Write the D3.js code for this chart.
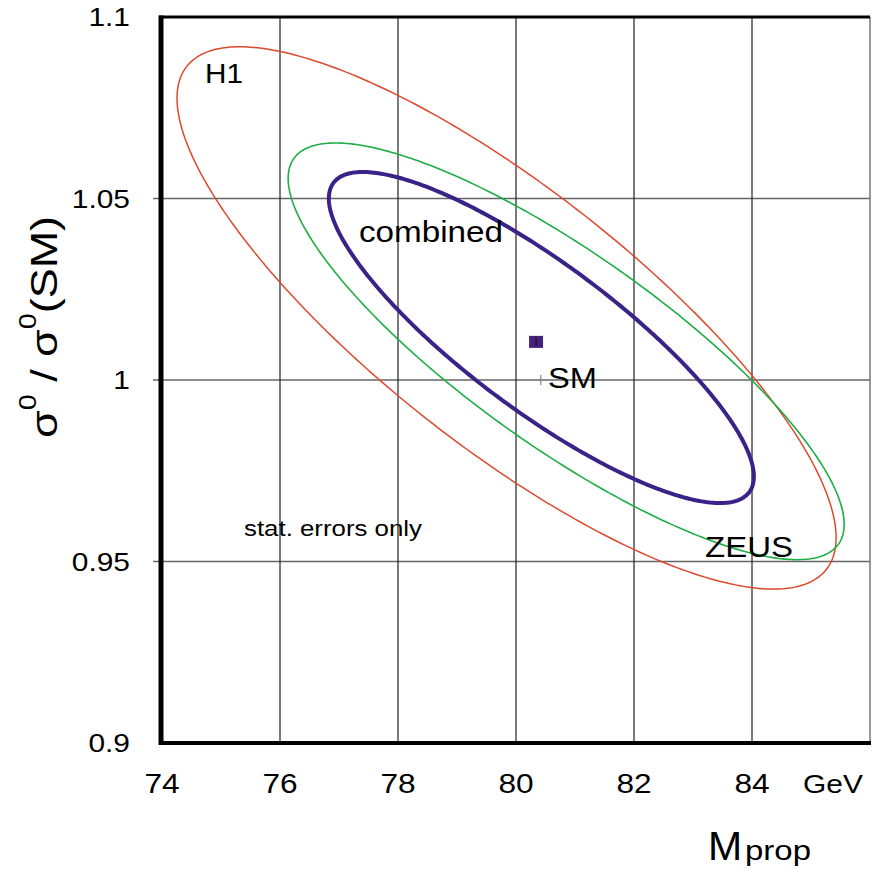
<!DOCTYPE html>
<html>
<head>
<meta charset="utf-8">
<script src="https://cdn.jsdelivr.net/npm/d3@7"></script>
<style>
  body { margin: 0; background: #fff; }
  text { font-family: "Liberation Sans", Arial, sans-serif; fill: #000; }
</style>
</head>
<body>
<div id="vis"></div>
<script>
// ellipse parameters: centre, spread in each direction, correlation
var contourNames = ['H1', 'ZEUS', 'combined'];
var centerX = [79.84, 80.85, 80.43];
var centerY = [1.0171, 1.0079, 1.0117];
var sigmaX = [5.585, 4.712, 3.602];
var sigmaY = [0.0747, 0.0574, 0.0456];
var rho = [-0.81, -0.83, -0.84];

var xTicks = [74, 76, 78, 80, 82, 84];
var yTicks = [0.9, 0.95, 1, 1.05, 1.1];
var yTickLabels = ['0.9', '0.95', '1', '1.05', '1.1'];

var fitPoint = [80.34, 1.0105];
var smPoint = [80.42, 1.0];

var width = 873;
var height = 871;

var colors = { H1: '#dc4a2e', ZEUS: '#1fae44', combined: '#3b2288' };
var widths = { H1: 1.5, ZEUS: 1.6, combined: 4 };

var x = d3.scaleLinear().domain([74, 86]).range([162, 870]);
var y = d3.scaleLinear().domain([0.9, 1.1]).range([743, 17]);

var svg = d3.select('#vis').append('svg')
  .attr('width', width)
  .attr('height', height);

// widen glyphs a bit, the original lettering is broader than Arial
function stretch(sel, k) {
  sel.each(function () {
    var len = this.getComputedTextLength();
    d3.select(this).attr('textLength', len * k).attr('lengthAdjust', 'spacingAndGlyphs');
  });
}

// grid
svg.selectAll('.hgrid')
  .data(yTicks.slice(1, 4))
  .enter().append('line')
  .attr('class', 'hgrid')
  .attr('x1', 153).attr('x2', 870)
  .attr('y1', function (d) { return y(d); })
  .attr('y2', function (d) { return y(d); })
  .attr('stroke', '#666')
  .attr('stroke-width', 1.3);

svg.selectAll('.vgrid')
  .data(xTicks.slice(1))
  .enter().append('line')
  .attr('class', 'vgrid')
  .attr('x1', function (d) { return x(d); })
  .attr('x2', function (d) { return x(d); })
  .attr('y1', y(1.1)).attr('y2', y(0.9))
  .attr('stroke', '#222')
  .attr('stroke-width', 1.2);

// contours
var angles = d3.range(0, 361, 1).map(function (a) { return a * Math.PI / 180; });

var line = d3.line()
  .x(function (d) { return x(d[0]); })
  .y(function (d) { return y(d[1]); })
  .curve(d3.curveLinearClosed);

contourNames.forEach(function (name, i) {
  var pts = angles.map(function (t) {
    return [
      centerX[i] + sigmaX[i] * Math.cos(t),
      centerY[i] + sigmaY[i] * (rho[i] * Math.cos(t) + Math.sqrt(1 - rho[i] * rho[i]) * Math.sin(t))
    ];
  });
  svg.append('path')
    .datum(pts)
    .attr('d', line)
    .attr('fill', 'none')
    .attr('stroke', colors[name])
    .attr('stroke-width', widths[name]);
});

// frame
svg.append('line')
  .attr('x1', x(86)).attr('x2', x(86)).attr('y1', y(1.1)).attr('y2', y(0.9))
  .attr('stroke', '#777').attr('stroke-width', 1.5);
svg.append('line')
  .attr('x1', 159).attr('x2', 870).attr('y1', y(1.1)).attr('y2', y(1.1))
  .attr('stroke', '#000').attr('stroke-width', 3);
svg.append('line')
  .attr('x1', 159).attr('x2', 871).attr('y1', y(0.9)).attr('y2', y(0.9))
  .attr('stroke', '#000').attr('stroke-width', 4);
svg.append('line')
  .attr('x1', 161).attr('x2', 161).attr('y1', y(1.1) - 1.5).attr('y2', y(0.9) + 2)
  .attr('stroke', '#000').attr('stroke-width', 5);

// markers
svg.append('rect')
  .attr('x', x(fitPoint[0]) - 7).attr('y', y(fitPoint[1]) - 6)
  .attr('width', 14).attr('height', 12)
  .attr('fill', '#46217f');
svg.append('line')
  .attr('x1', x(fitPoint[0])).attr('x2', x(fitPoint[0]))
  .attr('y1', y(fitPoint[1]) - 4).attr('y2', y(fitPoint[1]) + 4)
  .attr('stroke', '#111').attr('stroke-width', 1.2);
svg.append('line')
  .attr('x1', x(smPoint[0])).attr('x2', x(smPoint[0]))
  .attr('y1', y(smPoint[1]) - 5).attr('y2', y(smPoint[1]) + 5)
  .attr('stroke', '#888').attr('stroke-width', 1.2);

// tick labels
svg.selectAll('.ylab')
  .data(yTicks)
  .enter().append('text')
  .attr('class', 'ylab')
  .attr('x', 130)
  .attr('y', function (d) { return y(d) + 9; })
  .attr('text-anchor', 'end')
  .attr('font-size', 26)
  .text(function (d, i) { return yTickLabels[i]; })
  .call(stretch, 1.15);

svg.selectAll('.xlab')
  .data(xTicks)
  .enter().append('text')
  .attr('class', 'xlab')
  .attr('x', function (d) { return x(d); })
  .attr('y', 793)
  .attr('text-anchor', 'middle')
  .attr('font-size', 28)
  .text(function (d) { return d; })
  .call(stretch, 1.13);

svg.append('text')
  .attr('x', 803).attr('y', 793)
  .attr('font-size', 26)
  .text('GeV')
  .call(stretch, 1.15);

// axis titles
svg.append('text')
  .attr('x', 708).attr('y', 860)
  .attr('font-size', 41)
  .text('M');
svg.append('text')
  .attr('x', 745).attr('y', 860)
  .attr('font-size', 27)
  .attr('textLength', 66).attr('lengthAdjust', 'spacingAndGlyphs')
  .text('prop');

var ytitle = svg.append('text')
  .attr('transform', 'translate(57,438) rotate(-90)')
  .attr('font-size', 36);
ytitle.append('tspan').text('σ');
ytitle.append('tspan').attr('dy', -21).attr('font-size', 23).text('0');
ytitle.append('tspan').attr('dy', 21).text(' / σ');
ytitle.append('tspan').attr('dy', -21).attr('font-size', 23).text('0');
ytitle.append('tspan').attr('dy', 21).text('(SM)');
ytitle.attr('textLength', 222).attr('lengthAdjust', 'spacingAndGlyphs');

// annotations
var notes = [
  { t: 'H1', x: 205, y: 83, size: 28, w: 38 },
  { t: 'combined', x: 359, y: 242, size: 29, w: 144 },
  { t: 'SM', x: 548, y: 388, size: 29, w: 49 },
  { t: 'ZEUS', x: 705, y: 557, size: 29, w: 88 },
  { t: 'stat. errors only', x: 244, y: 536, size: 22, w: 178 }
];

svg.selectAll('.note')
  .data(notes)
  .enter().append('text')
  .attr('class', 'note')
  .attr('x', function (d) { return d.x; })
  .attr('y', function (d) { return d.y; })
  .attr('font-size', function (d) { return d.size; })
  .attr('textLength', function (d) { return d.w; })
  .attr('lengthAdjust', 'spacingAndGlyphs')
  .text(function (d) { return d.t; });
</script>
</body>
</html>
